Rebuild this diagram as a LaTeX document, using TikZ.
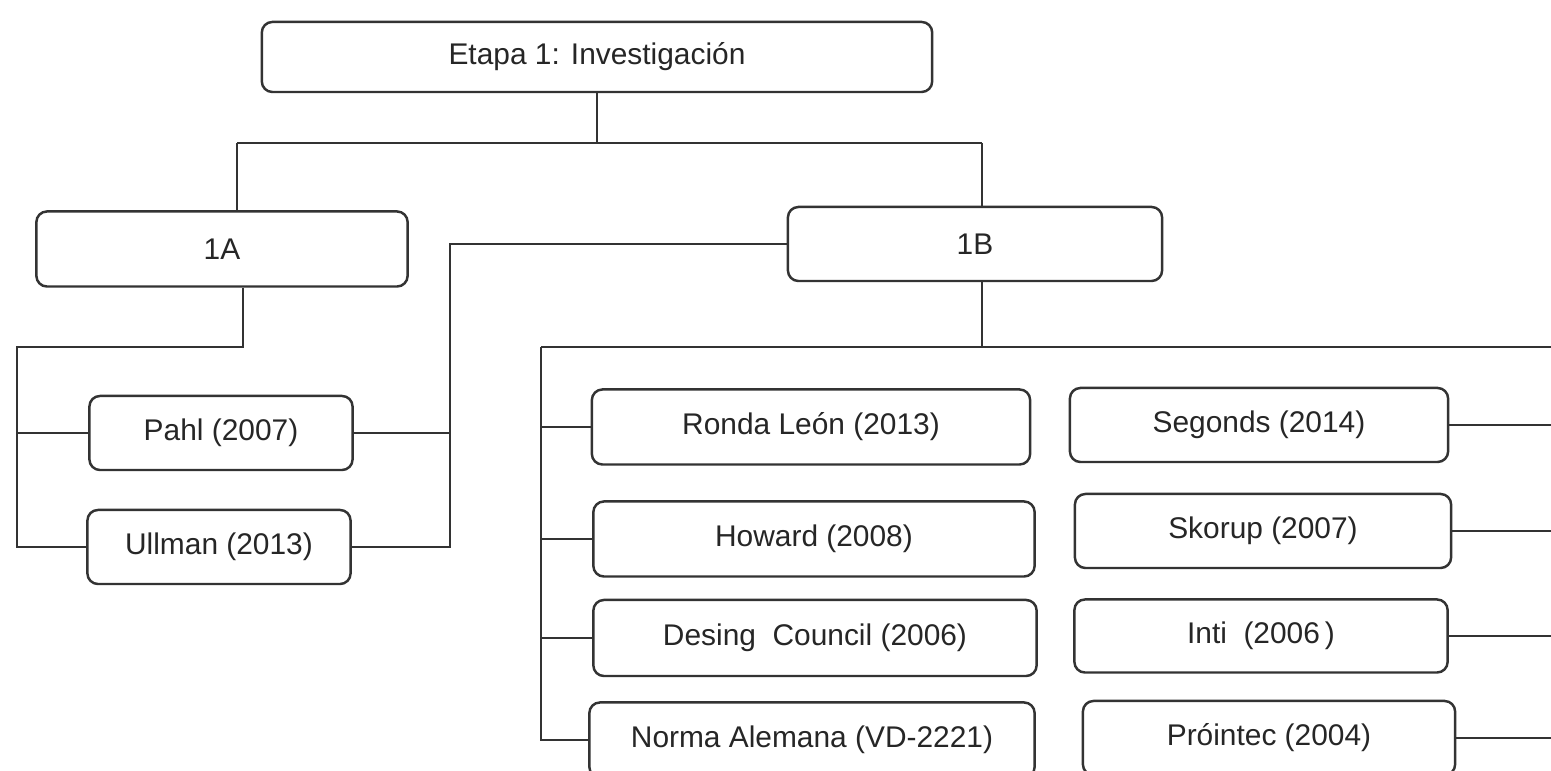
\documentclass[tikz,border=0pt]{standalone}
\usepackage{fontspec}
\setmainfont{Liberation Sans}
\usetikzlibrary{calc}
\tikzset{
	box/.style={draw=black!80, line width=0.7pt, rounded corners=3pt, inner sep=0pt,
		font=\fontsize{8.5}{10}\selectfont, text=black!85},
	conn/.style={draw=black!80, line width=0.7pt}
}

\begin{document}
\begin{tikzpicture}[x=0.01cm, y=-0.01cm]
		%%%%% FRAME %%%%%
		\useasboundingbox (0, 0) rectangle (1551, 771);
		\clip (0, 0) rectangle (1551, 771);
		\fill[white] (0, 0) rectangle (1551, 771);
		
		%%%%% BOXES %%%%%
		\node[box, minimum width=6.7cm, minimum height=0.7cm] (top) at (597, 57) {Etapa 1: Investigación};
		
		\node[box, minimum width=3.71cm, minimum height=0.75cm] (a1) at (222, 249) {1A};
		\node[box, minimum width=3.74cm, minimum height=0.74cm] (b1) at (975, 244) {1B};
		
		\node[box, minimum width=2.63cm, minimum height=0.74cm] (pahl) at (221, 433) {Pahl (2007)};
		\node[box, minimum width=2.63cm, minimum height=0.74cm] (ullman) at (219, 547) {Ullman (2013)};
		
		\node[box, minimum width=4.38cm, minimum height=0.75cm] (ronda) at (811, 427) {Ronda León (2013)};
		\node[box, minimum width=4.41cm, minimum height=0.75cm] (howard) at (814, 539) {Howard (2008)};
		\node[box, minimum width=4.43cm, minimum height=0.76cm] (desing) at (815, 638) {Desing~ Council (2006)};
		\node[box, minimum width=4.45cm, minimum height=0.75cm] (norma) at (812, 740) {Norma Alemana (VD-2221)};
		
		\node[box, minimum width=3.78cm, minimum height=0.74cm] (segonds) at (1259, 425) {Segonds (2014)};
		\node[box, minimum width=3.76cm, minimum height=0.74cm] (skorup) at (1263, 531) {Skorup (2007)};
		\node[box, minimum width=3.73cm, minimum height=0.73cm] (inti) at (1261, 636) {Inti~~(2006\,)};
		\node[box, minimum width=3.72cm, minimum height=0.74cm] (prointec) at (1269, 738) {Próintec (2004)};
		
		%%%%% BUS POINTS %%%%%
		\coordinate (topL) at (237, 143);
		\coordinate (topR) at (982, 143);
		\coordinate (aBus) at (243, 347);
		\coordinate (aLeft) at (17, 347);
		\coordinate (mBus) at (450, 244);
		\coordinate (bBus) at (982, 347);
		\coordinate (bLeft) at (541, 347);
		\coordinate (bRight) at (1551, 347);
		
		%%%%% LINES %%%%%
		\draw[conn] (top.south) -- (top.south |- topL);
		\draw[conn] (topL) -- (topR);
		\draw[conn] (topL) -- (topL |- a1.north);
		\draw[conn] (topR) -- (topR |- b1.north);
		
		\draw[conn] (aBus |- a1.south) -- (aBus) -- (aLeft) |- (ullman.west);
		\draw[conn] (aLeft |- pahl.west) -- (pahl.west);
		
		\draw[conn] (pahl.east) -| (mBus) -- (b1.west);
		\draw[conn] (ullman.east) -| (mBus);
		
		\draw[conn] (bBus |- b1.south) -- (bBus);
		\draw[conn] (bLeft) -- (bRight);
		\draw[conn] (bLeft) |- (norma.west);
		\draw[conn] (bLeft |- ronda.west) -- (ronda.west);
		\draw[conn] (bLeft |- howard.west) -- (howard.west);
		\draw[conn] (bLeft |- desing.west) -- (desing.west);
		
		\draw[conn] (segonds.east) -- (segonds.east -| bRight);
		\draw[conn] (skorup.east) -- (skorup.east -| bRight);
		\draw[conn] (inti.east) -- (inti.east -| bRight);
		\draw[conn] (prointec.east) -- (prointec.east -| bRight);
		
		%%%%% END %%%%%
	\end{tikzpicture}
\end{document}
